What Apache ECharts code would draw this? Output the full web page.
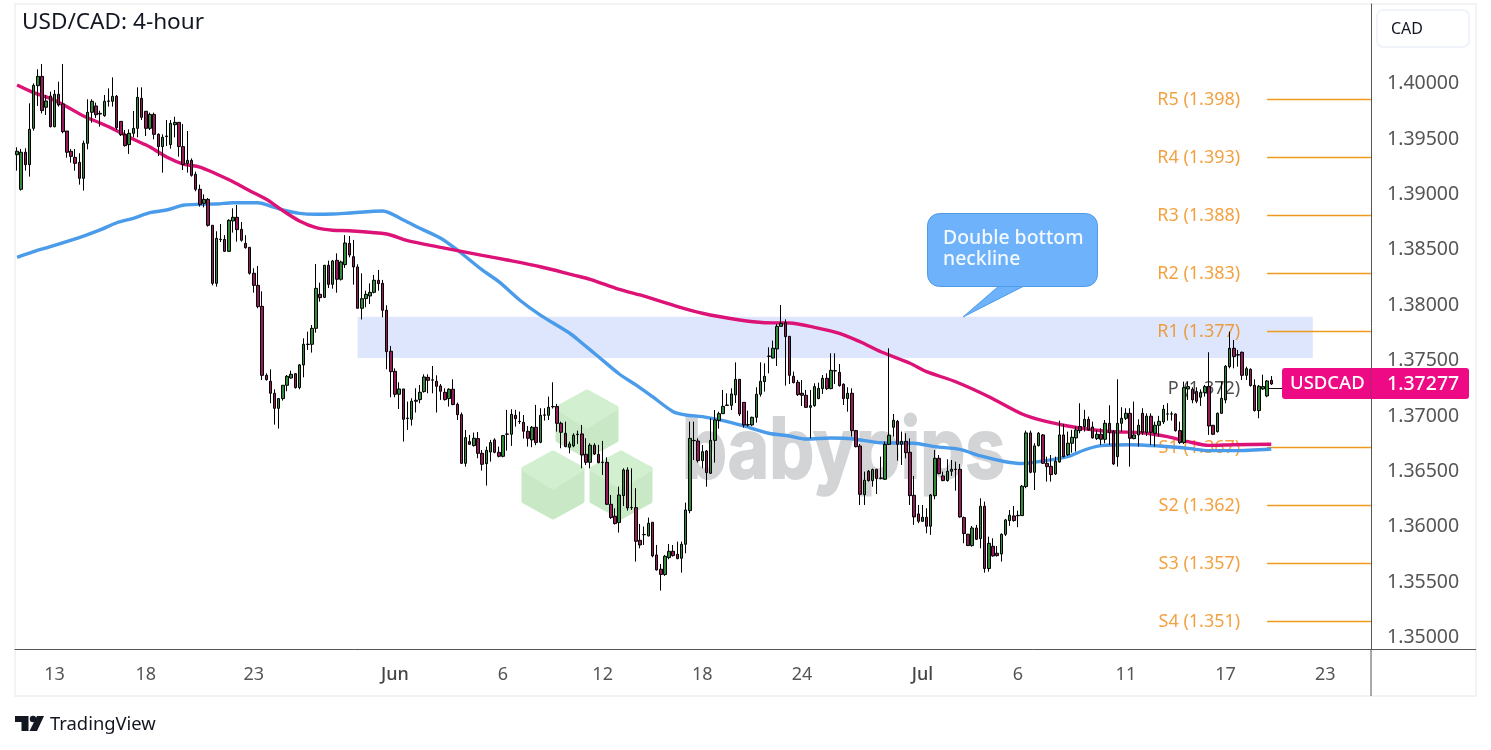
<!DOCTYPE html>
<html>
<head>
<meta charset="utf-8">
<title>USD/CAD: 4-hour</title>
<script src="https://cdn.jsdelivr.net/npm/echarts@6/dist/echarts.min.js"></script>
<style>
  html, body { margin: 0; padding: 0; background: #fff; }
  #main { width: 1491px; height: 750px; }
</style>
</head>
<body>
<div id="main"></div>
<script>
// each row: open, close, low, high
const mayCandles = [
  [1.39341,1.39372,1.39197,1.39408],[1.39029,1.39363,1.39017,1.39393],[1.39363,1.39251,1.39197,1.39399],[1.39251,1.39570,1.39143,1.39805],
  [1.39579,1.39967,1.39558,1.39985],[1.39964,1.40048,1.39781,1.40112],[1.40048,1.39739,1.39714,1.40160],[1.39769,1.39826,1.39699,1.39880],
  [1.39871,1.39594,1.39588,1.39910],[1.39594,1.39886,1.39588,1.39925],[1.39886,1.39790,1.39775,1.40000],[1.39799,1.39549,1.39534,1.40160],
  [1.39555,1.39363,1.39314,1.39555],[1.39372,1.39326,1.39269,1.39393],[1.39317,1.39263,1.39197,1.39393],[1.39272,1.39128,1.39071,1.39354],
  [1.39128,1.39444,1.39017,1.39468],[1.39444,1.39724,1.39390,1.39841],[1.39724,1.39823,1.39630,1.39841],[1.39781,1.39702,1.39672,1.39811],
  [1.39708,1.39714,1.39594,1.39739],[1.39693,1.39823,1.39684,1.39880],[1.39823,1.39826,1.39775,1.39940],[1.39823,1.39868,1.39775,1.40039],
  [1.39868,1.39585,1.39564,1.39880],[1.39642,1.39522,1.39510,1.39642],[1.39522,1.39423,1.39414,1.39564],[1.39432,1.39534,1.39348,1.39570],
  [1.39534,1.39579,1.39498,1.39736],[1.39579,1.39859,1.39498,1.39949],[1.39850,1.39678,1.39654,1.39949],[1.39733,1.39579,1.39510,1.39733],
  [1.39579,1.39705,1.39564,1.39721],[1.39705,1.39525,1.39480,1.39721],[1.39525,1.39414,1.39329,1.39534],[1.39414,1.39498,1.39179,1.39525],
  [1.39504,1.39510,1.39420,1.39654],[1.39432,1.39624,1.39396,1.39654],[1.39612,1.39633,1.39498,1.39684],[1.39633,1.39414,1.39323,1.39633],
  [1.39414,1.39254,1.39203,1.39618],[1.39263,1.39290,1.39179,1.39555],[1.39290,1.39155,1.39143,1.39308],[1.39164,1.39029,1.39011,1.39188],
  [1.39029,1.38893,1.38872,1.39071],[1.38902,1.38938,1.38866,1.38983],[1.38938,1.38704,1.38692,1.38950],[1.38704,1.38180,1.38162,1.38704],
  [1.38180,1.38586,1.38150,1.38650],[1.38575,1.38578,1.38553,1.38716],[1.38577,1.38469,1.38463,1.38615],[1.38469,1.38749,1.38463,1.38758],
  [1.38743,1.38776,1.38638,1.38857],[1.38776,1.38665,1.38556,1.38887],[1.38668,1.38569,1.38556,1.38734],[1.38541,1.38502,1.38493,1.38615],
  [1.38505,1.38271,1.38259,1.38505],[1.38271,1.38162,1.38096,1.38316],[1.38162,1.37970,1.37955,1.38337],[1.37973,1.37350,1.37308,1.38108],
  [1.37350,1.37311,1.37302,1.37368],[1.37296,1.37188,1.37098,1.37404],[1.37188,1.37052,1.36905,1.37224],[1.37052,1.37140,1.36869,1.37140],
  [1.37140,1.37260,1.37122,1.37260],[1.37260,1.37341,1.37206,1.37353],[1.37326,1.37359,1.37320,1.37392],[1.37365,1.37239,1.37230,1.37368],
  [1.37239,1.37444,1.37224,1.37453],[1.37444,1.37630,1.37332,1.37684],[1.37628,1.37631,1.37579,1.37744],[1.37630,1.37774,1.37555,1.37804],
  [1.37774,1.38135,1.37735,1.38355],[1.38081,1.38051,1.38015,1.38186],[1.38054,1.38343,1.38048,1.38346],[1.38343,1.38171,1.38138,1.38385],
  [1.38171,1.38382,1.38132,1.38391],[1.38388,1.38217,1.38096,1.38451],[1.38217,1.38373,1.38205,1.38385],[1.38349,1.38544,1.38319,1.38615],
  [1.38541,1.38436,1.38415,1.38607],[1.38421,1.38328,1.38168,1.38572],[1.38328,1.37955,1.37955,1.38352],[1.37955,1.38042,1.37854,1.38271],
  [1.38042,1.38081,1.37964,1.38114],[1.38066,1.38099,1.37994,1.38180],[1.38099,1.38208,1.38090,1.38256],[1.38208,1.38177,1.38114,1.38301],
  [1.38180,1.37937,1.37874,1.38211],[1.37937,1.37564,1.37404,1.37982],[1.37567,1.37383,1.37152,1.37615]
];
const juneCandles = [
  [1.37386,1.37179,1.37152,1.37413],[1.37179,1.37227,1.37046,1.37287],[1.37227,1.36953,1.36752,1.37227],[1.36961,1.36964,1.36857,1.37113],
  [1.36953,1.37116,1.36896,1.37143],[1.37116,1.37125,1.37014,1.37233],[1.37131,1.37197,1.37098,1.37263],[1.37203,1.37335,1.37194,1.37359],
  [1.37332,1.37305,1.37188,1.37359],[1.37306,1.37309,1.37188,1.37434],[1.37296,1.37251,1.37014,1.37350],[1.37254,1.37206,1.37128,1.37272],
  [1.37197,1.37131,1.37122,1.37233],[1.37140,1.37224,1.37068,1.37233],[1.37224,1.37086,1.37080,1.37314],[1.37089,1.36995,1.36947,1.37104],
  [1.36995,1.36556,1.36550,1.37014],[1.36556,1.36788,1.36526,1.36857],[1.36752,1.36728,1.36722,1.36812],[1.36716,1.36782,1.36707,1.36833],
  [1.36779,1.36646,1.36601,1.36839],[1.36646,1.36547,1.36490,1.36676],[1.36553,1.36673,1.36355,1.36707],[1.36658,1.36743,1.36571,1.36767],
  [1.36767,1.36655,1.36646,1.36782],[1.36655,1.36619,1.36610,1.36707],[1.36619,1.36806,1.36610,1.36812],[1.36818,1.36821,1.36670,1.37038],
  [1.36818,1.36998,1.36713,1.37044],[1.36989,1.36959,1.36887,1.37038],[1.36935,1.36932,1.36911,1.37023],[1.36926,1.36845,1.36779,1.36992],
  [1.36845,1.36782,1.36707,1.36893],[1.36767,1.36881,1.36701,1.36893],[1.36881,1.36743,1.36719,1.37083],[1.36746,1.36989,1.36737,1.37053],
  [1.36990,1.36993,1.36941,1.37053],[1.36989,1.37062,1.36947,1.37158],[1.37066,1.37069,1.37050,1.37287],[1.37068,1.36917,1.36842,1.37092],
  [1.36917,1.36836,1.36692,1.36932],[1.36827,1.36707,1.36701,1.36932],[1.36701,1.36731,1.36646,1.36752],[1.36713,1.36809,1.36701,1.36827],
  [1.36815,1.36818,1.36731,1.36851],[1.36821,1.36631,1.36511,1.36902],[1.36637,1.36565,1.36541,1.36782],[1.36565,1.36719,1.36511,1.36737],
  [1.36719,1.36640,1.36631,1.36737],[1.36637,1.36562,1.36556,1.36722],[1.36563,1.36566,1.36451,1.36758],[1.36565,1.36186,1.36180,1.36610],
  [1.36186,1.36066,1.36054,1.36270],[1.36078,1.36012,1.36003,1.36150],[1.36021,1.36270,1.35931,1.36346],[1.36264,1.36496,1.36171,1.36511],
  [1.36496,1.36153,1.36129,1.36520],[1.36155,1.36158,1.36135,1.36511],[1.36156,1.35852,1.35669,1.36331],[1.35861,1.35819,1.35789,1.36009],
  [1.35911,1.35914,1.35819,1.35985],[1.35901,1.36015,1.35895,1.36066],[1.36024,1.35720,1.35708,1.36024],[1.35729,1.35594,1.35588,1.35819],
  [1.35600,1.35552,1.35407,1.35648],[1.35552,1.35717,1.35540,1.35729],[1.35705,1.35762,1.35690,1.35828],[1.35762,1.35723,1.35714,1.35819],
  [1.35735,1.35696,1.35690,1.35849],[1.35699,1.35825,1.35569,1.35849],[1.35825,1.36135,1.35744,1.36201],[1.36129,1.36781,1.36105,1.36932],
  [1.36760,1.36763,1.36586,1.36932],[1.36757,1.36580,1.36562,1.36781],[1.36580,1.36661,1.36511,1.36721],[1.36667,1.36472,1.36345,1.36676],
  [1.36466,1.36763,1.36460,1.36962],[1.36763,1.36947,1.36562,1.37037],[1.36944,1.37004,1.36869,1.37022],[1.37004,1.37070,1.37001,1.37218],
  [1.37079,1.37082,1.37073,1.37188],[1.37079,1.37182,1.37037,1.37233],[1.37173,1.37314,1.37100,1.37467],[1.37314,1.37001,1.36983,1.37314],
  [1.37106,1.36902,1.36878,1.37106],[1.36902,1.36905,1.36887,1.37031],[1.36902,1.36971,1.36893,1.36977],[1.36971,1.37179,1.36923,1.37242],
  [1.37179,1.37296,1.37158,1.37467],[1.37293,1.37341,1.37203,1.37458],[1.37521,1.37524,1.37368,1.37603],[1.37506,1.37594,1.37503,1.37663],
  [1.37588,1.37792,1.37434,1.37813],[1.37792,1.37819,1.37789,1.37985],[1.37825,1.37699,1.37257,1.37855],[1.37702,1.37350,1.37272,1.37705],
  [1.37341,1.37284,1.37278,1.37383],[1.37287,1.37176,1.37164,1.37308],[1.37188,1.37170,1.37073,1.37308],[1.37170,1.37061,1.37055,1.37218],
  [1.37061,1.37076,1.36781,1.37218],[1.37076,1.37248,1.37067,1.37278],[1.37140,1.37233,1.37134,1.37284],[1.37230,1.37323,1.37182,1.37353],
  [1.37323,1.37230,1.37218,1.37368],[1.37230,1.37395,1.37224,1.37549],[1.37389,1.37392,1.37272,1.37549],[1.37377,1.37257,1.37248,1.37452],
  [1.37269,1.37140,1.37082,1.37278],[1.37140,1.37188,1.37022,1.37242],[1.37188,1.36851,1.36797,1.37233],[1.36851,1.36706,1.36700,1.36857],
  [1.36712,1.36276,1.36180,1.36730],[1.36273,1.36403,1.36180,1.36481],[1.36484,1.36400,1.36391,1.36496],[1.36400,1.36499,1.36345,1.36508],
  [1.36502,1.36418,1.36279,1.36502],[1.36420,1.36423,1.36412,1.36616],[1.36412,1.36727,1.36406,1.36751]
];
const julyCandles = [
  [1.36727,1.36809,1.36721,1.37594],[1.36881,1.36944,1.36797,1.37001],[1.36935,1.36727,1.36580,1.36947],[1.36727,1.36754,1.36541,1.36842],
  [1.36754,1.36652,1.36601,1.36827],[1.36655,1.36264,1.36180,1.36781],[1.36267,1.36072,1.36000,1.36442],[1.36099,1.36033,1.36015,1.36180],
  [1.36033,1.36069,1.36027,1.36180],[1.36069,1.35988,1.35925,1.36150],[1.35988,1.36270,1.35910,1.36279],[1.36264,1.36601,1.36231,1.36676],
  [1.36601,1.36463,1.36457,1.36631],[1.36442,1.36400,1.36394,1.36481],[1.36400,1.36484,1.36391,1.36592],[1.36484,1.36502,1.36442,1.36586],
  [1.36500,1.36503,1.36309,1.36571],[1.36502,1.36072,1.36066,1.36550],[1.36066,1.35922,1.35834,1.36075],[1.35916,1.35813,1.35810,1.35919],
  [1.35813,1.35972,1.35804,1.35990],[1.35972,1.35870,1.35864,1.36000],[1.35876,1.36168,1.35789,1.36240],[1.36168,1.35606,1.35569,1.36210],
  [1.35606,1.35834,1.35578,1.35894],[1.35807,1.35720,1.35714,1.35879],[1.35744,1.35723,1.35714,1.35810],[1.35738,1.35915,1.35669,1.35924],
  [1.35915,1.36045,1.35900,1.36054],[1.36039,1.36087,1.35991,1.36135],[1.36081,1.36039,1.36030,1.36171],[1.36083,1.36086,1.35979,1.36129],
  [1.36084,1.36349,1.36081,1.36361],[1.36346,1.36830,1.36331,1.36851],[1.36830,1.36475,1.36466,1.36851],[1.36475,1.36713,1.36315,1.36737],
  [1.36716,1.36827,1.36707,1.36839],[1.36812,1.36556,1.36550,1.36821],[1.36556,1.36526,1.36391,1.36616],[1.36529,1.36454,1.36391,1.36631],
  [1.36460,1.36574,1.36451,1.36616],[1.36568,1.36812,1.36562,1.36941],[1.36812,1.36616,1.36610,1.36911],[1.36634,1.36737,1.36622,1.36842],
  [1.36737,1.36791,1.36652,1.36857],[1.36785,1.36857,1.36662,1.36887],[1.36887,1.36851,1.36827,1.37098],[1.36887,1.36953,1.36842,1.37038],
  [1.36953,1.36857,1.36851,1.36978],[1.36884,1.36785,1.36779,1.36932],[1.36779,1.36818,1.36767,1.36857],[1.36818,1.36773,1.36722,1.36872],
  [1.36773,1.36917,1.36737,1.36947],[1.36917,1.36833,1.36722,1.37080],[1.36842,1.36550,1.36541,1.36857],[1.36616,1.36917,1.36526,1.37314],
  [1.36917,1.36962,1.36842,1.37062],[1.36962,1.37007,1.36947,1.37053],[1.37007,1.36782,1.36526,1.37053],[1.36779,1.36812,1.36773,1.37113],
  [1.36812,1.36899,1.36707,1.36953],[1.37007,1.36836,1.36812,1.37053],[1.36836,1.36981,1.36803,1.37007],[1.36981,1.36836,1.36722,1.37007],
  [1.36827,1.36899,1.36707,1.36932],[1.36899,1.36935,1.36797,1.36984],[1.36929,1.37044,1.36911,1.37083],[1.37000,1.37002,1.36941,1.37098],
  [1.37000,1.37002,1.36941,1.37023],[1.37001,1.36851,1.36842,1.37007],[1.36851,1.36743,1.36731,1.36932],[1.36743,1.37239,1.36731,1.37293],
  [1.37227,1.37248,1.37128,1.37293],[1.37224,1.37128,1.37098,1.37242],[1.37203,1.37116,1.37098,1.37242],[1.37152,1.37194,1.37074,1.37224],
  [1.37194,1.37248,1.37158,1.37263],[1.37248,1.36893,1.36812,1.37558],[1.36899,1.36818,1.36812,1.36902],[1.36842,1.37007,1.36833,1.37014],
  [1.37007,1.37143,1.37001,1.37293],[1.37128,1.37431,1.37098,1.37443],[1.37428,1.37594,1.37413,1.37744],[1.37594,1.37519,1.37413,1.37669],
  [1.37533,1.37536,1.37428,1.37579],[1.37558,1.37350,1.37308,1.37564],[1.37350,1.37410,1.37308,1.37428],[1.37404,1.37257,1.37248,1.37413],
  [1.37260,1.37032,1.37023,1.37314],[1.37032,1.37251,1.36962,1.37263],[1.37227,1.37248,1.37218,1.37356],[1.37164,1.37299,1.37152,1.37308],
  [1.37305,1.37272,1.37263,1.37344]
];

// bar number and reading of each moving average
const maRedSlots = [0,4,8,12,16,20,24,28,32,36,40,44,48,52,56,60,64,68,72,76,80,89,94,102,112,118,126,134,138,145,150,157,165,174,180,186,192,198,203,208,215,219,226,234,242,247,253,259,264,271,277,282,287,293,302];
const maRedValues = [1.39970,1.39901,1.39850,1.39774,1.39690,1.39627,1.39558,1.39480,1.39411,1.39320,1.39257,1.39230,1.39167,1.39097,1.39016,1.38939,1.38836,1.38743,1.38682,1.38659,1.38655,1.38625,1.38565,1.38505,1.38433,1.38391,1.38330,1.38255,1.38217,1.38126,1.38075,1.37994,1.37910,1.37849,1.37825,1.37822,1.37783,1.37729,1.37653,1.37563,1.37459,1.37383,1.37292,1.37157,1.37001,1.36941,1.36893,1.36859,1.36841,1.36832,1.36796,1.36751,1.36718,1.36724,1.36728];
const maBlueSlots = [0,4,8,16,20,24,28,32,36,40,44,48,52,58,61,64,68,72,76,80,88,93,97,102,106,112,116,121,126,133,136,140,145,149,153,158,161,165,170,175,181,186,190,196,201,208,216,221,227,232,238,242,247,253,257,261,268,275,282,287,293,302];
const maBlueValues = [1.38415,1.38466,1.38511,1.38607,1.38662,1.38727,1.38767,1.38818,1.38842,1.38885,1.38894,1.38896,1.38908,1.38908,1.38878,1.38842,1.38812,1.38803,1.38806,1.38815,1.38833,1.38752,1.38677,1.38587,1.38481,1.38301,1.38195,1.38030,1.37894,1.37732,1.37642,1.37518,1.37362,1.37263,1.37157,1.37022,1.36992,1.36977,1.36941,1.36893,1.36827,1.36802,1.36775,1.36784,1.36778,1.36742,1.36737,1.36706,1.36682,1.36622,1.36570,1.36554,1.36577,1.36616,1.36676,1.36715,1.36724,1.36712,1.36691,1.36670,1.36670,1.36685];

const pivotNames = ["R5 (1.398)","R4 (1.393)","R3 (1.388)","R2 (1.383)","R1 (1.377)","P (1.372)","S1 (1.367)","S2 (1.362)","S3 (1.357)","S4 (1.351)"];
const pivotValues = [1.39839,1.39316,1.38792,1.38269,1.37746,1.37231,1.36699,1.36175,1.35652,1.35128];

const priceTicks = [1.35,1.355,1.36,1.365,1.37,1.375,1.38,1.385,1.39,1.395,1.40];
const tickSlots = [9,31,57,91,117,141,165,189,218,241,267,291,315];
const tickLabels = ["13","18","23","Jun","6","12","18","24","Jul","6","11","17","23"];
const zoneTop = 1.37878;
const zoneBottom = 1.37507;
const lastPrice = "1.37277";

const FONT = "'Noto Sans', sans-serif";
const SLOTS = 327;
const ORANGE = "#f08a10";

const candles = [...mayCandles, ...juneCandles, ...julyCandles];
const categories = Array.from({ length: SLOTS }, (_, i) => {
  const k = tickSlots.indexOf(i);
  return k >= 0 ? tickLabels[k] : "";
});

function cube(cx, cy) {
  const top = [[cx, cy - 32], [cx + 29, cy - 16], [cx, cy + 2], [cx - 29, cy - 16]];
  const rest = [[cx - 29, cy - 16], [cx, cy + 2], [cx + 29, cy - 16], [cx + 29, cy + 16], [cx, cy + 32], [cx - 29, cy + 16]];
  const poly = (points, fill) => ({
    type: "polygon", z: -10, silent: true,
    shape: { points },
    style: { fill, stroke: fill, lineWidth: 5, lineJoin: "round" }
  });
  return [poly(rest, "#c9e9c6"), poly(top, "#d2f0cf")];
}

const pivotLines = pivotValues.map((v, i) => ({
  type: "line",
  data: [[301, v], [i === 5 ? 306 : 326, v]],
  symbol: "none",
  silent: true,
  z: 1,
  lineStyle: { color: i === 5 ? "#111" : "#ee9a1e", width: i === 5 ? 1 : 1.5 }
}));

const graphics = [
  ...cube(587, 424), ...cube(553, 485), ...cube(621, 485),
  { type: "text", z: -9, silent: true, x: 682, y: 411, scaleX: 0.85,
    style: { text: "babypips", font: "700 84px Inter, sans-serif", fill: "#d3d4d6", stroke: "#d3d4d6", lineWidth: 2, lineJoin: "round" } },
  // frame and the axis parts outside the plot
  { type: "rect", z: -20, silent: true, shape: { x: 15, y: 4, width: 1461, height: 692 },
    style: { fill: "#fff", stroke: "#f2f3f5", lineWidth: 2 } },
  { type: "line", z: 20, silent: true, shape: { x1: 1371, y1: 649.5, x2: 1371, y2: 696 }, style: { stroke: "#555", lineWidth: 1 } },
  { type: "line", z: 20, silent: true, shape: { x1: 1371, y1: 649.5, x2: 1476, y2: 649.5 }, style: { stroke: "#555", lineWidth: 1 } },
  // currency box
  { type: "rect", z: 20, silent: true, shape: { x: 1377, y: 10, width: 92, height: 37, r: 6 },
    style: { fill: "#fff", stroke: "#f0f3fa", lineWidth: 2 } },
  { type: "text", z: 21, silent: true, x: 1391, y: 21,
    style: { text: "CAD", font: "16px " + FONT, fill: "#131722" } },
  // last price tag
  { type: "rect", z: 20, silent: true, shape: { x: 1282, y: 368, width: 187, height: 31, r: 3 },
    style: { fill: "#ee0a84" } },
  { type: "line", z: 21, silent: true, shape: { x1: 1371, y1: 368, x2: 1371, y2: 399 }, style: { stroke: "#a8296e", lineWidth: 1 } },
  { type: "text", z: 21, silent: true, x: 1290, y: 374,
    style: { text: "USDCAD", font: "500 18.5px " + FONT, fill: "#fff" } },
  { type: "text", z: 21, silent: true, x: 1387, y: 374,
    style: { text: lastPrice, font: "500 19.5px " + FONT, fill: "#fff" } },
  // callout
  { type: "polygon", z: 15, silent: true, shape: { points: [[1000, 285], [963, 317], [1026, 285]] },
    style: { fill: "#6db2fa", stroke: "#4f9be6", lineWidth: 1 } },
  { type: "rect", z: 16, silent: true, shape: { x: 927.5, y: 213.5, width: 170, height: 73, r: 12 },
    style: { fill: "#6db2fa", stroke: "#4f9be6", lineWidth: 1 } },
  { type: "text", z: 17, silent: true, x: 943, y: 228,
    style: { text: "Double bottom\nneckline", font: "500 19.4px " + FONT, lineHeight: 21, fill: "#f4f9ff" } },
  // logo and name
  { type: "polygon", silent: true, shape: { points: [[15, 716], [28.5, 716], [28.5, 731], [21.5, 731], [21.5, 722], [15, 722]] }, style: { fill: "#131722" } },
  { type: "circle", silent: true, shape: { cx: 33, cy: 719, r: 3.2 }, style: { fill: "#131722" } },
  { type: "polygon", silent: true, shape: { points: [[37, 716], [44, 716], [37, 731], [29.5, 731]] }, style: { fill: "#131722" } },
  { type: "text", silent: true, x: 50, y: 716,
    style: { text: "TradingView", font: "18.4px " + FONT, fill: "#131722" } }
];

const chart = echarts.init(document.getElementById("main"), null, { renderer: "canvas" });

chart.setOption({
  animation: false,
  backgroundColor: "#fff",
  title: {
    text: "USD/CAD: 4-hour",
    left: 22,
    top: 11,
    padding: 0,
    textStyle: { fontFamily: FONT, fontSize: 22.6, fontWeight: "normal", color: "#131722" }
  },
  grid: { left: 15, right: 118, top: 4, bottom: 100.5 },
  xAxis: {
    type: "category",
    data: categories,
    boundaryGap: true,
    axisLine: { lineStyle: { color: "#555", width: 1 } },
    axisTick: { show: false },
    splitLine: { show: false },
    axisLabel: {
      interval: (i) => tickSlots.includes(i),
      hideOverlap: false,
      margin: 16,
      fontFamily: FONT,
      fontSize: 18,
      color: "#555",
      formatter: (v) => (v === "Jun" || v === "Jul") ? "{m|" + v + "}" : v,
      rich: { m: { fontFamily: FONT, fontSize: 18, fontWeight: 500, color: "#444" } }
    }
  },
  yAxis: {
    type: "value",
    position: "right",
    offset: -2,
    min: 1.348755,
    max: 1.407012,
    scale: true,
    axisLine: { show: true, lineStyle: { color: "#555", width: 1 } },
    axisTick: { show: false },
    splitLine: { show: false },
    axisLabel: {
      customValues: priceTicks,
      align: "left",
      margin: 16,
      formatter: (v) => "{p|" + v.toFixed(5) + "}",
      rich: {
        p: { fontFamily: FONT, fontSize: 19.5, color: "#555", padding: [4, 0, 0, 0] }
      }
    }
  },
  graphic: { elements: graphics },
  series: [
    {
      type: "scatter",
      z: 1,
      silent: true,
      symbolSize: 0,
      data: pivotValues.map((v, i) => ({
        value: [295, v],
        name: pivotNames[i],
        label: { color: i === 5 ? "#222" : ORANGE }
      })),
      label: {
        show: true,
        position: "left",
        distance: 2,
        padding: [2, 0, 0, 0],
        formatter: (p) => p.name,
        fontFamily: FONT,
        fontSize: 18
      },
      labelLayout: { hideOverlap: false }
    },
    ...pivotLines,
    {
      type: "line",
      z: 2,
      silent: true,
      symbol: "none",
      smooth: 0.3,
      data: maBlueSlots.map((s, i) => [s, maBlueValues[i]]),
      lineStyle: { color: "#4a9bea", width: 3.4 }
    },
    {
      type: "line",
      z: 2,
      silent: true,
      symbol: "none",
      smooth: 0.3,
      data: maRedSlots.map((s, i) => [s, maRedValues[i]]),
      lineStyle: { color: "#dc1277", width: 3.4 }
    },
    {
      type: "candlestick",
      z: 3,
      silent: true,
      barWidth: 3,
      data: candles,
      itemStyle: {
        color: "#2f8a3c",
        color0: "#96195a",
        borderColor: "#000",
        borderColor0: "#000",
        borderWidth: 1
      },
      markArea: {
        silent: true,
        z: 0,
        itemStyle: { color: "#dde6fc" },
        data: [[{ coord: [82, zoneTop] }, { coord: [312, zoneBottom] }]]
      }
    }
  ]
});
</script>
</body>
</html>
